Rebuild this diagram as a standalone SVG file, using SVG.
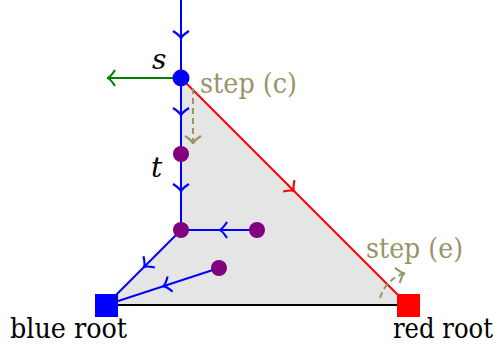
<svg xmlns="http://www.w3.org/2000/svg" width="499" height="349" viewBox="0 0 499 349">
<defs>
<style>
.blue{stroke:#0000ff;stroke-width:2;fill:none}
.red{stroke:#ff0000;stroke-width:2;fill:none}
.green{stroke:#008000;stroke-width:2;fill:none}
.olive{stroke:#999466;stroke-width:2;fill:none;stroke-dasharray:6,4}
.pur{fill:#800080}
text{font-family:"DejaVu Serif",serif;font-size:28px}
</style>
<marker id="ab" viewBox="-10 -10 20 20" markerWidth="20" markerHeight="20" markerUnits="userSpaceOnUse" orient="auto" refX="0" refY="0"><path d="M-8,-8 C-4.5,-2.5 -1.5,0 0,0 C-1.5,0 -4.5,2.5 -8,8" fill="none" stroke="#0000ff" stroke-width="2.2"/></marker>
<marker id="ar" viewBox="-10 -10 20 20" markerWidth="20" markerHeight="20" markerUnits="userSpaceOnUse" orient="auto" refX="0" refY="0"><path d="M-8,-8 C-4.5,-2.5 -1.5,0 0,0 C-1.5,0 -4.5,2.5 -8,8" fill="none" stroke="#ff0000" stroke-width="2.2"/></marker>
<marker id="ag" viewBox="-10 -10 20 20" markerWidth="20" markerHeight="20" markerUnits="userSpaceOnUse" orient="auto" refX="0" refY="0"><path d="M-8,-8 C-4.5,-2.5 -1.5,0 0,0 C-1.5,0 -4.5,2.5 -8,8" fill="none" stroke="#008000" stroke-width="2.2"/></marker>
<marker id="ao" viewBox="-10 -10 20 20" markerWidth="20" markerHeight="20" markerUnits="userSpaceOnUse" orient="auto" refX="0" refY="0"><path d="M-8,-8 C-4.5,-2.5 -1.5,0 0,0 C-1.5,0 -4.5,2.5 -8,8" fill="none" stroke="#999466" stroke-width="2.2"/></marker>
</defs>
<polygon points="181,78 181,230 106,305 408,305" fill="#e5e5e5"/>
<g id="connectors">
<line x1="106" y1="305" x2="408" y2="305" stroke="#000" stroke-width="2"/>
<polyline class="red" points="181,78 294.5,191.5 408,305" marker-mid="url(#ar)"/>
<polyline class="blue" points="181,0 181,39 181,78" marker-mid="url(#ab)"/>
<polyline class="blue" points="181,78 181,116 181,154" marker-mid="url(#ab)"/>
<polyline class="blue" points="181,154 181,192 181,230" marker-mid="url(#ab)"/>
<polyline class="blue" points="257,230 219,230 181,230" marker-mid="url(#ab)"/>
<polyline class="blue" points="181,230 143.5,267.5 106,305" marker-mid="url(#ab)"/>
<polyline class="blue" points="219,268 162.5,286.5 106,305" marker-mid="url(#ab)"/>
<line class="green" x1="181" y1="78" x2="107" y2="78" marker-end="url(#ag)"/>
<path class="olive" d="M193,88 L193,144" marker-end="url(#ao)"/>
<path class="olive" d="M380,298 Q386,279 405,273" marker-end="url(#ao)"/>
</g>
<g id="s"><circle cx="181" cy="78" r="8.5" fill="#0000ff"/><text x="152" y="69" font-style="italic" fill="#000">s</text></g>
<g id="t"><circle class="pur" cx="181" cy="154" r="8"/><text x="151" y="177" font-style="italic" fill="#000">t</text></g>
<g id="p1"><circle class="pur" cx="181" cy="230" r="8"/></g>
<g id="p2"><circle class="pur" cx="257" cy="230" r="8"/></g>
<g id="p3"><circle class="pur" cx="219" cy="268" r="8"/></g>
<g id="blueroot"><rect x="95" y="294" width="23" height="23" fill="#0000ff"/><text x="10" y="338" fill="#000" textLength="117" lengthAdjust="spacingAndGlyphs">blue root</text></g>
<g id="redroot"><rect x="397" y="294" width="23" height="23" fill="#ff0000"/><text x="393" y="338" fill="#000" textLength="100" lengthAdjust="spacingAndGlyphs">red root</text></g>
<g id="stepc"><text x="200" y="93" fill="#999466" textLength="97" lengthAdjust="spacingAndGlyphs">step (c)</text></g>
<g id="stepe"><text x="366" y="258" fill="#999466" textLength="97" lengthAdjust="spacingAndGlyphs">step (e)</text></g>
</svg>
